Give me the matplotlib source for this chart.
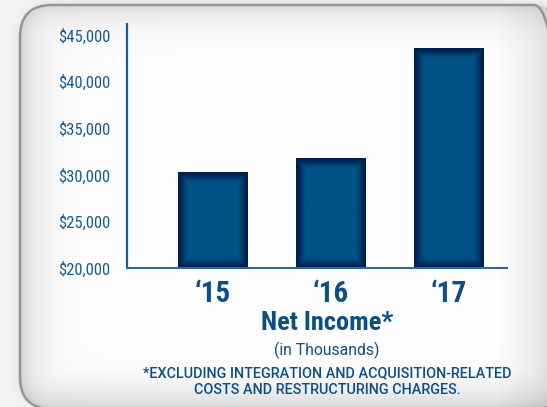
import numpy as np
import matplotlib
matplotlib.use("Agg")
import matplotlib.pyplot as plt
from matplotlib.patches import FancyBboxPatch
from matplotlib.ticker import FuncFormatter

# ---- data ----
years = ["\u201815", "\u201816", "\u201817"]
net_income = [30200, 31700, 43500]
y_ticks = [20000, 25000, 30000, 35000, 40000, 45000]
title = "Net Income*"
subtitle = "(in Thousands)"
footnote = ["*EXCLUDING INTEGRATION AND ACQUISITION-RELATED",
            "COSTS AND RESTRUCTURING CHARGES."]

plt.rcParams['font.family'] = ["Roboto Condensed", "DejaVu Sans"]

W, H = 547, 407
fig = plt.figure(figsize=(W / 100, H / 100), dpi=100)

# ---- background with rounded frame ----
bg = fig.add_axes([0, 0, 1, 1], zorder=-2)
yy, xx = np.mgrid[0:H, 0:W].astype(float)
x0, x1, y0, y1, r = 20, 566, 5, 409, 32
cx, cy = (x0 + x1) / 2, (y0 + y1) / 2
bx, by = (x1 - x0) / 2, (y1 - y0) / 2
qx = np.abs(xx - cx) - bx + r
qy = np.abs(yy - cy) - by + r
d = np.hypot(np.maximum(qx, 0), np.maximum(qy, 0)) + np.minimum(np.maximum(qx, qy), 0) - r
depth = np.maximum(-d, 0)
inside_v = 1 - 0.13 * np.exp(-depth / 18)
inside_v -= 0.03 * np.exp(-np.maximum(xx - x0, 0) / 45)
inside_v -= 0.08 * np.clip((xx - 495) / 52, 0, 1)
inside_v -= 0.04 * np.clip((yy - 370) / 37, 0, 1)
outside_v = 0.955 - 0.08 * np.exp(-np.maximum(d, 0) / 4)
v = np.where(d < 0, inside_v, outside_v)
img = np.dstack([v, v, v])
bg.imshow(img, extent=(0, W, 0, H), origin="upper", interpolation="bilinear")
bg.add_patch(FancyBboxPatch((x0, H - y1), x1 - x0, y1 - y0,
                            boxstyle=f"round,pad=0,rounding_size={r}",
                            facecolor="none", edgecolor="#959595", lw=1.8))
bg.set_xlim(0, W)
bg.set_ylim(0, H)
bg.axis("off")

# ---- main axes ----
ax_l, ax_r, ax_b, ax_t = 127, 507, 268, 24
ax = fig.add_axes([ax_l / W, 1 - ax_b / H, (ax_r - ax_l) / W, (ax_b - ax_t) / H])
ax.set_facecolor("none")
ymin, ymax = 20000, 46180
xlim = (-0.725, 2.496)
ax.set_ylim(ymin, ymax)
ax.set_xlim(*xlim)

x = np.arange(len(years))
bars = ax.bar(x, [v - ymin for v in net_income], bottom=ymin, width=0.585,
              color="#02528a", zorder=2)

edge_c = np.array([0, 30, 75]) / 255
mid_c = np.array([1, 82, 135]) / 255
for b in bars:
    (px0, py0), (px1, py1) = ax.transData.transform(
        [(b.get_x(), b.get_y()), (b.get_x() + b.get_width(), b.get_y() + b.get_height())])
    nw, nh = int(round(px1 - px0)), int(round(py1 - py0))
    gy, gx = np.mgrid[0:nh, 0:nw] + 0.5
    dist = np.minimum(np.minimum(gx, nw - gx), np.minimum(gy, nh - gy))
    t = np.clip(dist / 11, 0, 1)
    t = t * t * (3 - 2 * t)
    grad = edge_c[None, None, :] * (1 - t[..., None]) + mid_c[None, None, :] * t[..., None]
    ax.imshow(grad, extent=(b.get_x(), b.get_x() + b.get_width(), b.get_y(), b.get_y() + b.get_height()),
              aspect="auto", zorder=3, interpolation="bilinear")
ax.set_xlim(*xlim)
ax.set_ylim(ymin, ymax)

for s in ["top", "right"]:
    ax.spines[s].set_visible(False)
ax.spines["left"].set_color("#1a5e98")
ax.spines["left"].set_linewidth(1.6)
ax.spines["bottom"].set_color("#2a6aa0")
ax.spines["bottom"].set_linewidth(1.5)
ax.spines["bottom"].set_zorder(4)

ax.set_yticks(y_ticks)
ax.yaxis.set_major_formatter(FuncFormatter(lambda v, p: f"${int(v):,}"))
ax.tick_params(axis="y", length=0, pad=12, labelsize=12, labelcolor="#1b5b94")
ax.set_xticks(x)
ax.set_xticklabels(years, fontsize=21, fontweight="bold", color="#0b4f88")
ax.tick_params(axis="x", length=0, pad=9)

tc = "#0b4f88"
wide = ["Roboto", "DejaVu Sans"]
fig.text(327 / W, 1 - 323 / H, title, ha="center", va="center", fontsize=19,
         fontweight="bold", color=tc)
fig.text(327 / W, 1 - 350 / H, subtitle, ha="center", va="center", fontsize=11.3,
         color=tc, family=wide)
fig.text(327 / W, 1 - 373 / H, footnote[0], ha="center", va="center", fontsize=10.4,
         color=tc, family=wide, fontweight="medium")
fig.text(327 / W, 1 - 390 / H, footnote[1], ha="center", va="center", fontsize=10.4,
         color=tc, family=wide, fontweight="medium")

fig.savefig("out.png", dpi=100)
